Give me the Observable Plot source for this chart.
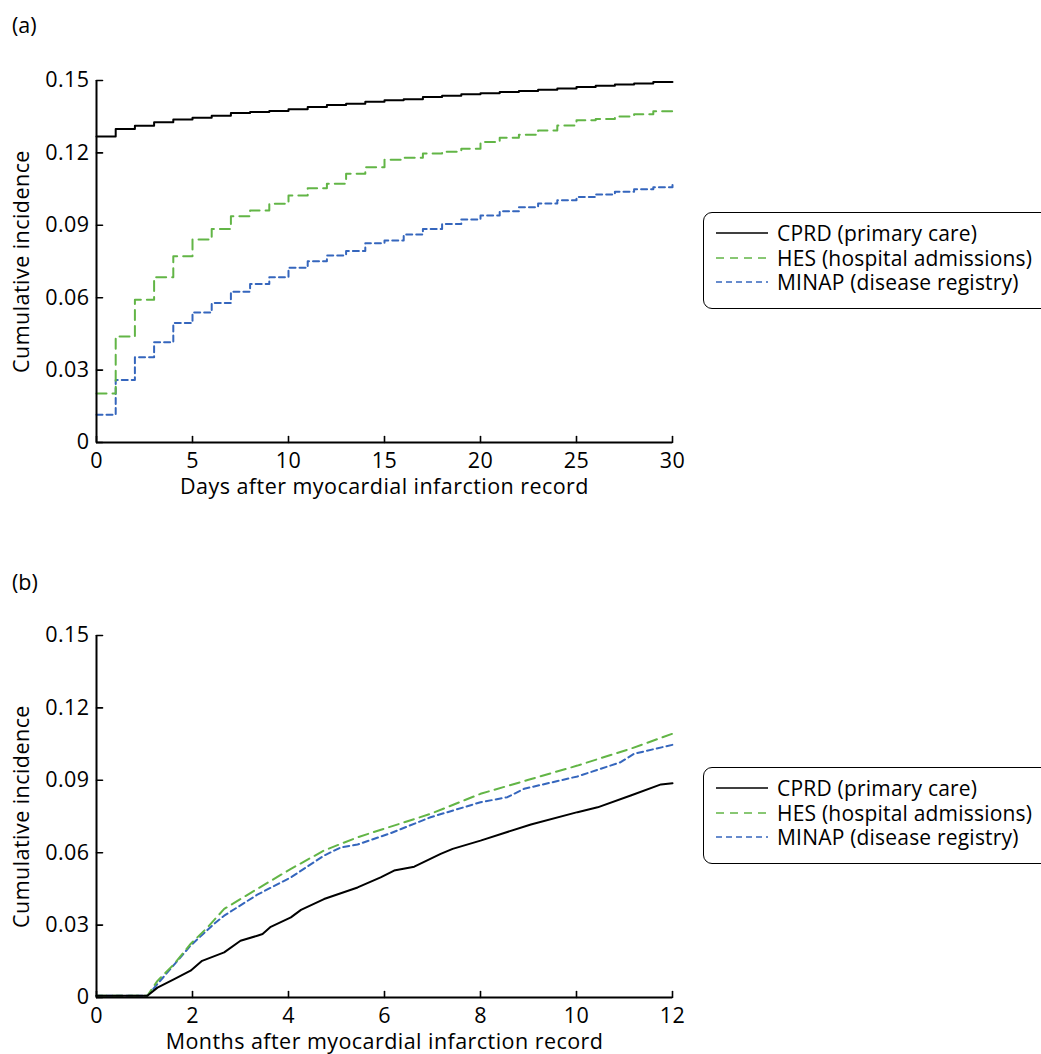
<!DOCTYPE html>
<html>
<head>
<meta charset="utf-8">
<script src="https://cdn.jsdelivr.net/npm/d3@7"></script>
<script src="https://cdn.jsdelivr.net/npm/@observablehq/plot@0.6"></script>
<style>
  html, body { margin: 0; padding: 0; background: #fff; }
  body { width: 1041px; height: 1054px; overflow: hidden; position: relative; font-family: "Open Sans", sans-serif; color: #000; }
  .panel { position: absolute; left: 0; }
  .tag { position: absolute; left: 12px; font-size: 21.5px; line-height: 24px; }
  .legend { position: absolute; left: 703px; width: 360px; height: 97px; border: 1.6px solid #000; border-radius: 9px; box-sizing: border-box; }
  .row { position: absolute; left: 0; height: 22px; line-height: 22px; font-size: 21px; letter-spacing: 0.2px; white-space: nowrap; }
  .row svg { position: absolute; left: 11px; top: 0; }
  .row span { position: absolute; display: inline-block; height: 22px; line-height: 22px; left: 73px; top: 0; }
</style>
</head>
<body>
<div id="root"></div>
<script>
// ---------- Data ----------
const seriesNames = ["CPRD (primary care)", "HES (hospital admissions)", "MINAP (disease registry)"];
const seriesColors = ["#000000", "#62b546", "#3566bd"];
const seriesDash = [null, "10,6", "6,4"];

const yTicks = [0, 0.03, 0.06, 0.09, 0.12, 0.15];
const yTickLabels = ["0", "0.03", "0.06", "0.09", "0.12", "0.15"];

// Panel (a): days after MI record
const aXTicks = [0, 5, 10, 15, 20, 25, 30];
const aDays = [0,1,2,3,4,5,6,7,8,9,10,11,12,13,14,15,16,17,18,19,20,21,22,23,24,25,26,27,28,29,30];
const aCPRD = [0.1268,0.1299,0.1313,0.1327,0.1338,0.1346,0.1354,0.1365,0.1369,0.1374,0.1381,0.1390,0.1398,0.1404,0.1412,0.1418,0.1422,0.1432,0.1437,0.1443,0.1447,0.1452,0.1457,0.1462,0.1467,0.1473,0.1478,0.1483,0.1488,0.1494,0.1494];
const aHES  = [0.0203,0.0439,0.0591,0.0685,0.0772,0.0841,0.0885,0.0937,0.0961,0.0989,0.1024,0.1054,0.1072,0.1114,0.1141,0.1172,0.1180,0.1197,0.1205,0.1217,0.1245,0.1263,0.1275,0.1293,0.1314,0.1335,0.1340,0.1351,0.1360,0.1373,0.1373];
const aMINAP= [0.0115,0.0259,0.0353,0.0415,0.0495,0.0539,0.0578,0.0625,0.0657,0.0685,0.0724,0.0751,0.0775,0.0793,0.0826,0.0837,0.0862,0.0885,0.0905,0.0924,0.0941,0.0958,0.0975,0.0990,0.1004,0.1017,0.1028,0.1039,0.1049,0.1058,0.1067];

// Panel (b): months after MI record
const bXTicks = [0, 2, 4, 6, 8, 10, 12];
const bCPRDm = [0, 1.06, 1.27, 1.62, 1.96, 2.2, 2.66, 3.0, 3.35, 3.46, 3.63, 4.05, 4.26, 4.74, 5.44, 5.92, 6.2, 6.62, 7.17, 7.42, 8.0, 9.05, 10.02, 10.44, 11.13, 11.76, 12.0];
const bCPRDv = [0.0007, 0.0007, 0.0041, 0.0076, 0.0111, 0.0152, 0.0187, 0.0235, 0.0256, 0.0263, 0.0293, 0.0332, 0.0363, 0.0408, 0.0456, 0.0498, 0.0526, 0.0542, 0.0595, 0.0616, 0.0650, 0.0717, 0.0768, 0.0788, 0.0837, 0.0883, 0.0888];
const bHESm  = [0, 1.06, 1.27, 1.62, 1.96, 2.31, 2.66, 3.35, 4.05, 4.74, 5.44, 6.13, 6.96, 8.0, 9.0, 10.02, 11.13, 12.0];
const bHESv  = [0.0007, 0.0007, 0.0069, 0.0139, 0.0222, 0.0290, 0.0367, 0.0450, 0.0533, 0.0609, 0.0664, 0.0708, 0.0761, 0.0844, 0.0902, 0.0961, 0.1031, 0.1093];
const bMINAPm= [0, 1.06, 1.27, 1.96, 2.45, 2.66, 3.35, 4.05, 4.74, 5.09, 5.44, 6.13, 6.96, 8.0, 8.56, 8.91, 10.02, 10.92, 11.2, 12.0];
const bMINAPv= [0.0007, 0.0007, 0.0056, 0.0215, 0.0305, 0.0339, 0.0426, 0.0498, 0.0588, 0.0622, 0.0634, 0.0681, 0.0747, 0.0809, 0.0830, 0.0865, 0.0916, 0.0975, 0.1010, 0.1047];

// ---------- Build ----------
const zip = (xs, ys) => xs.map((x, i) => ({x, y: ys[i]}));
const tickShape = { draw(context, l) { context.moveTo(0, 0); context.lineTo(0, -l); } };

function makePanel({xDomain, xTicks, xLabel, series, curve}) {
  const marks = [
    Plot.axisX({ticks: xTicks, tickSize: 0, tickPadding: 10, label: null, tickFormat: d => String(d)}),
    Plot.axisY({ticks: yTicks, tickSize: 0, tickPadding: 7, label: null, tickFormat: d => yTickLabels[yTicks.indexOf(d)]}),
    Plot.vector(xTicks, {x: d => d, frameAnchor: "bottom", length: 6, anchor: "start", shape: tickShape, stroke: "#000", strokeWidth: 1.6}),
    Plot.vector(yTicks, {y: d => d, frameAnchor: "left", rotate: 90, length: 6, anchor: "start", shape: tickShape, stroke: "#000", strokeWidth: 1.6})
  ];
  series.slice().reverse().forEach((s) => {
    marks.push(Plot.line(s.data, {x: "x", y: "y", stroke: s.color, strokeWidth: 2, strokeDasharray: s.dash, curve}));
  });
  marks.push(
    Plot.ruleX([xDomain[0]], {stroke: "#000", strokeWidth: 2}),
    Plot.ruleY([0], {stroke: "#000", strokeWidth: 2}),
    Plot.text(["Cumulative incidence"], {text: d => d, frameAnchor: "left", dx: -74, rotate: -90, textAnchor: "middle", lineAnchor: "middle", fontSize: 21.5, fill: "#000"}),
    Plot.text([xLabel], {text: d => d, frameAnchor: "bottom", dy: 45, textAnchor: "middle", lineAnchor: "middle", fontSize: 21.5, fill: "#000"})
  );
  return Plot.plot({
    width: 700, height: 510,
    marginTop: 80, marginBottom: 68, marginLeft: 96, marginRight: 28,
    style: {fontFamily: "Open Sans", fontSize: "21.5px", letterSpacing: "0.45px", color: "#000", background: "transparent", overflow: "visible"},
    x: {domain: xDomain},
    y: {domain: [0, 0.15]},
    marks
  });
}

function makeLegend(top) {
  const box = document.createElement("div");
  box.className = "legend";
  box.style.top = top + "px";
  const centers = [20, 45, 69];
  seriesNames.forEach((name, i) => {
    const row = document.createElement("div");
    row.className = "row";
    row.style.top = (centers[i] - 11) + "px";
    const dash = seriesDash[i] ? (i === 1 ? "8,6" : "6,4") : "";
    row.innerHTML = `<svg width="54" height="22"><line x1="1" x2="53" y1="11" y2="11" stroke="${seriesColors[i]}" stroke-width="1.6" ${dash ? `stroke-dasharray="${dash}"` : ""}/></svg><span>${name}</span>`;
    box.appendChild(row);
  });
  return box;
}

const root = document.getElementById("root");

function addTag(text, top) {
  const t = document.createElement("div");
  t.className = "tag"; t.textContent = text; t.style.top = top + "px";
  root.appendChild(t);
}

const panelA = makePanel({
  xDomain: [0, 30], xTicks: aXTicks, xLabel: "Days after myocardial infarction record", curve: "step-after",
  series: [
    {data: zip(aDays, aCPRD), color: seriesColors[0], dash: seriesDash[0]},
    {data: zip(aDays, aHES), color: seriesColors[1], dash: seriesDash[1]},
    {data: zip(aDays, aMINAP), color: seriesColors[2], dash: seriesDash[2]}
  ]
});
const panelB = makePanel({
  xDomain: [0, 12], xTicks: bXTicks, xLabel: "Months after myocardial infarction record", curve: "linear",
  series: [
    {data: zip(bCPRDm, bCPRDv), color: seriesColors[0], dash: seriesDash[0]},
    {data: zip(bHESm, bHESv), color: seriesColors[1], dash: seriesDash[1]},
    {data: zip(bMINAPm, bMINAPv), color: seriesColors[2], dash: seriesDash[2]}
  ]
});

const wa = document.createElement("div"); wa.className = "panel"; wa.style.top = "0px"; wa.appendChild(panelA); root.appendChild(wa);
const wb = document.createElement("div"); wb.className = "panel"; wb.style.top = "555px"; wb.appendChild(panelB); root.appendChild(wb);
addTag("(a)", 13);
addTag("(b)", 570);
root.appendChild(makeLegend(212));
root.appendChild(makeLegend(767));
</script>
</body>
</html>
